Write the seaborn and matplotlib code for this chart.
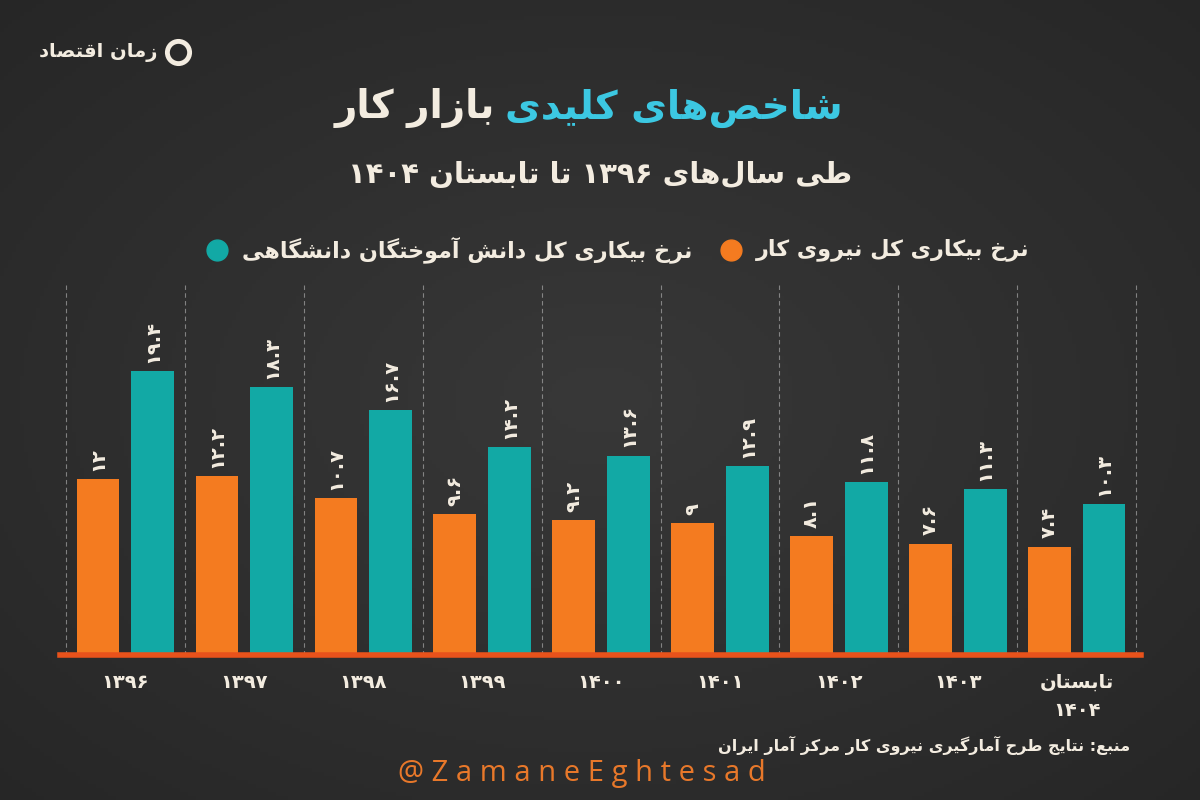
import re
import unicodedata

import numpy as np
import pandas as pd
import matplotlib
matplotlib.use("Agg")
import matplotlib.pyplot as plt
from matplotlib.lines import Line2D
from matplotlib.colors import LinearSegmentedColormap
import seaborn as sns

# data
years = ["۱۳۹۶", "۱۳۹۷", "۱۳۹۸", "۱۳۹۹", "۱۴۰۰", "۱۴۰۱", "۱۴۰۲", "۱۴۰۳", "تابستان\n۱۴۰۴"]
labor_force = [12, 12.2, 10.7, 9.6, 9.2, 9, 8.1, 7.6, 7.4]
graduates = [19.4, 18.3, 16.7, 14.2, 13.6, 12.9, 11.8, 11.3, 10.3]
series_names = ["نرخ بیکاری کل نیروی کار", "نرخ بیکاری کل دانش آموختگان دانشگاهی"]

BG = "#2f2f2f"
ORANGE = "#f47b20"
TEAL = "#12a9a5"
CYAN = "#3cc8e2"
CREAM = "#f3ece0"
BASE = "#e8521b"

# --- minimal arabic shaping + rtl ordering (matplotlib does no text shaping) ---
FORMS = {}
for cp in list(range(0xFB50, 0xFE00)) + list(range(0xFE70, 0xFF00)):
    dec = unicodedata.decomposition(chr(cp)).split()
    if len(dec) == 2 and dec[0] in ("<isolated>", "<final>", "<initial>", "<medial>"):
        FORMS.setdefault(chr(int(dec[1], 16)), {}).setdefault(dec[0][1:-1], chr(cp))


def joins_next(c):
    f = FORMS.get(c, {})
    return "initial" in f or "medial" in f


def joins_prev(c):
    return "final" in FORMS.get(c, {})


def shape(s):
    out = []
    for i, c in enumerate(s):
        if c not in FORMS:
            out.append(c)
            continue
        p = s[i - 1] if i > 0 else ""
        n = s[i + 1] if i + 1 < len(s) else ""
        jp = joins_next(p) and joins_prev(c)
        jn = joins_next(c) and joins_prev(n)
        form = "medial" if jp and jn else "final" if jp else "initial" if jn else "isolated"
        out.append(FORMS[c].get(form, FORMS[c].get("isolated", c)))
    return "".join(out)


def fa(text):
    lines = []
    for line in text.split("\n"):
        vis = shape(line)[::-1]
        vis = re.sub(r"[0-9۰-۹][0-9۰-۹.]*", lambda m: m.group(0)[::-1], vis)
        lines.append(vis.replace("\u200c", ""))
    return "\n".join(lines)


to_fa_digits = str.maketrans("0123456789", "۰۱۲۳۴۵۶۷۸۹")

df = pd.DataFrame({
    "year": years * 2,
    "series": [series_names[0]] * len(years) + [series_names[1]] * len(years),
    "value": labor_force + graduates,
})

plt.rcParams["font.family"] = ["DejaVu Sans"]

fig = plt.figure(figsize=(12, 8), dpi=100, facecolor=BG)

# soft vignette behind everything
bg_ax = fig.add_axes([0, 0, 1, 1], zorder=-10)
yy, xx = np.mgrid[-1:1:200j, -1:1:300j]
bg_ax.imshow(np.sqrt(xx ** 2 + yy ** 2), cmap=LinearSegmentedColormap.from_list("v", ["#383838", "#262626"]),
             aspect="auto", extent=[0, 1, 0, 1], vmin=0, vmax=1.45)
bg_ax.axis("off")

ax = fig.add_axes([60 / 1200, 1 - 655 / 800, 1081 / 1200, 370 / 800])
ax.set_facecolor("none")

sns.barplot(data=df, x="year", y="value", hue="series", hue_order=series_names,
            palette=[ORANGE, TEAL], saturation=1, width=0.92, gap=0.22,
            legend=False, ax=ax)

ax.set_xlim(-0.55, 8.54)
ax.set_ylim(0, 25.26)
for s in ax.spines.values():
    s.set_visible(False)
ax.axhline(0, color=BASE, lw=4, zorder=5, clip_on=False)

ax.set_xticks(np.arange(-0.5, 9.0, 1), minor=True)
ax.grid(which="minor", axis="x", color="#c8c8c8", ls=(0, (4, 3)), lw=0.8, alpha=0.55)
ax.grid(which="major", visible=False)
ax.set_axisbelow(True)
ax.set_yticks([])
ax.set_xlabel("")
ax.set_ylabel("")
ax.set_xticks(range(len(years)))
ax.set_xticklabels([fa(y) for y in years], fontsize=14, fontweight="bold", color=CREAM,
                   linespacing=1.6)
ax.tick_params(which="both", length=0)
ax.tick_params(axis="x", pad=13)

for cont, vals in zip(ax.containers, [labor_force, graduates]):
    labels = [fa(f"{v:g}".translate(to_fa_digits)) for v in vals]
    ax.bar_label(cont, labels=labels, rotation=90, padding=6, fontsize=14,
                 fontweight="bold", color=CREAM)

# title
fig.text(505 / 1200, 1 - 108 / 800, fa("شاخص‌های کلیدی"), color=CYAN, ha="left",
         va="center", fontsize=28, fontweight="bold")
fig.text(495 / 1200, 1 - 108 / 800, fa("بازار کار"), color=CREAM, ha="right",
         va="center", fontsize=28, fontweight="bold")
fig.text(0.5, 1 - 175 / 800, fa("طی سال‌های ۱۳۹۶ تا تابستان ۱۴۰۴"), color=CREAM,
         ha="center", va="center", fontsize=21, fontweight="bold")

# legend (right to left)
leg_y = 1 - 250 / 800
for mx, tx, col, name in [(731, 756, ORANGE, series_names[0]), (217, 242, TEAL, series_names[1])]:
    fig.add_artist(Line2D([mx / 1200], [leg_y], marker="o", ms=15, color=col, lw=0,
                          transform=fig.transFigure))
    fig.text(tx / 1200, leg_y, fa(name), color=CREAM, ha="left", va="center",
             fontsize=16, fontweight="bold")

# logo
fig.text(158 / 1200, 1 - 52 / 800, fa("زمان اقتصاد"), color=CREAM, ha="right",
         va="center", fontsize=14, fontweight="bold")
fig.add_artist(Line2D([178 / 1200], [1 - 52 / 800], marker="o", ms=16, mfc="none",
                      mec=CREAM, mew=3.5, lw=0, transform=fig.transFigure))

# source + handle
fig.text(1130 / 1200, 1 - 745 / 800, fa("منبع: نتایج طرح آمارگیری نیروی کار مرکز آمار ایران"),
         color=CREAM, ha="right", va="center", fontsize=11.5, fontweight="bold")
fig.text(582 / 1200, 1 - 773 / 800, "@ Z a m a n e E g h t e s a d", color="#e8782a",
         ha="center", va="center", fontsize=21, family=["Open Sans", "DejaVu Sans"])

fig.savefig("out.png", dpi=100, facecolor=BG)
